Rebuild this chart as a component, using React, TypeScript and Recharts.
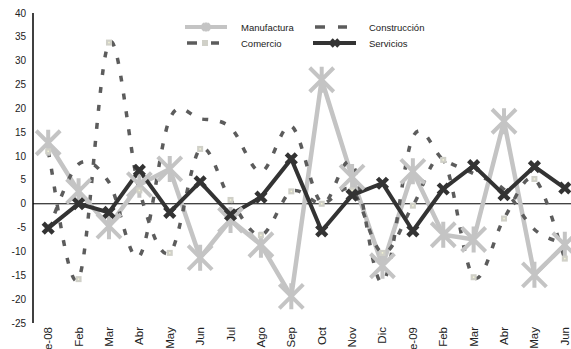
import React from 'react';
import { LineChart, Line, XAxis, YAxis, ReferenceLine, Legend } from 'recharts';

// monthly variation by sector, Jan 2008 – Jun 2009
const months = ['Ene-08', 'Feb', 'Mar', 'Abr', 'May', 'Jun', 'Jul', 'Ago', 'Sep', 'Oct', 'Nov', 'Dic', 'Ene-09', 'Feb', 'Mar', 'Abr', 'May', 'Jun'];
const manufactura = [12.8, 2.6, -4.7, 4.0, 7.3, -11.3, -3.4, -8.6, -19.4, 26.0, 5.6, -13.0, 6.8, -6.5, -7.5, 17.3, -14.9, -8.6];
const comercio = [11.0, -15.8, 33.8, 2.8, -10.3, 11.5, 0.8, -6.6, 2.6, 0.0, 2.8, -10.3, -0.4, 9.2, -15.4, -3.1, 5.2, -11.5];
const construccion = [-5.5, 8.3, 4.5, -11.0, 17.8, 17.8, 16.0, 6.7, 16.3, 0.2, 8.5, -16.5, 14.0, 9.3, 6.3, 3.0, -5.4, -8.5];
const servicios = [-5.1, 0.0, -1.8, 7.0, -1.8, 4.6, -2.3, 1.4, 9.4, -5.7, 1.8, 4.3, -5.7, 3.1, 8.0, 1.9, 7.8, 3.3];
const yTicks = [-25, -20, -15, -10, -5, 0, 5, 10, 15, 20, 25, 30, 35, 40];

const data = months.map((mes, i) => ({
  idx: i,
  mes,
  manufactura: manufactura[i],
  comercio: comercio[i],
  construccion: construccion[i],
  servicios: servicios[i],
}));

const FONT = '"Liberation Sans", Arial, sans-serif';
const LIGHT = '#c4c4c4';
const DARK = '#333333';
const DASH = '#5c5c5c';
const DASHES = '6 12';

// Excel-like smoothed line: cubic Bezier through every point,
// control points taken from the neighbouring points
const smoothCurve = (context: any) => {
  let pts: number[][] = [];
  return {
    areaStart() {},
    areaEnd() {},
    lineStart() {
      pts = [];
    },
    point(x: number, y: number) {
      pts.push([+x, +y]);
    },
    lineEnd() {
      if (!pts.length) return;
      context.moveTo(pts[0][0], pts[0][1]);
      for (let i = 0; i < pts.length - 1; i++) {
        const p0 = pts[i - 1] || pts[i];
        const p1 = pts[i];
        const p2 = pts[i + 1];
        const p3 = pts[i + 2] || p2;
        context.bezierCurveTo(
          p1[0] + (p2[0] - p0[0]) / 6,
          p1[1] + (p2[1] - p0[1]) / 6,
          p2[0] - (p3[0] - p1[0]) / 6,
          p2[1] - (p3[1] - p1[1]) / 6,
          p2[0],
          p2[1]
        );
      }
    },
  };
};

const starPath = (cx: number, cy: number, h: number) =>
  `M${cx - h},${cy - h}L${cx + h},${cy + h}M${cx - h},${cy + h}L${cx + h},${cy - h}M${cx},${cy - h - 1}L${cx},${cy + h + 1}`;

const crossPath = (cx: number, cy: number, h: number) =>
  `M${cx - h},${cy - h}L${cx + h},${cy + h}M${cx - h},${cy + h}L${cx + h},${cy - h}`;

const renderStar = (p: any) => (
  <path key={`m-${p.index}`} d={starPath(p.cx, p.cy, 12)} stroke={LIGHT} strokeWidth={4} fill="none" />
);

const renderCross = (p: any) => (
  <path key={`s-${p.index}`} d={crossPath(p.cx, p.cy, 5)} stroke={DARK} strokeWidth={4.5} fill="none" />
);

const renderSquare = (p: any) => (
  <g key={`c-${p.index}`}>
    <rect x={p.cx - 3} y={p.cy - 3} width={6} height={6} fill="#d0d0c8" />
    <rect x={p.cx - 0.75} y={p.cy - 0.75} width={1.5} height={1.5} fill="#f4f4d6" />
  </g>
);

// rotated month labels; long ones run past the bottom edge
const MonthTick = ({ x, y, payload }: any) => (
  <text
    x={x}
    y={y}
    transform={`rotate(-90 ${x} ${y})`}
    textAnchor="end"
    dy="0.35em"
    fontSize={11.5}
    fill="#222"
    fontFamily={FONT}
  >
    {months[payload.value]}
  </text>
);

const LegendBox = () => {
  const text = { fontSize: 9.5, fill: '#222', fontFamily: FONT };
  return (
    <svg width={580} height={60} style={{ position: 'absolute', left: 0, top: 0, overflow: 'visible' }}>
      <line x1={185} x2={227} y1={27} y2={27} stroke={LIGHT} strokeWidth={4} />
      <path d={starPath(206, 27, 3.5)} stroke={LIGHT} strokeWidth={3} />
      <text x={241} y={30.5} {...text}>Manufactura</text>

      <line x1={187} x2={197} y1={43} y2={43} stroke={DASH} strokeWidth={3.5} />
      <rect x={202} y={40} width={6} height={6} fill="#d0d0c8" />
      <line x1={211} x2={219} y1={43} y2={43} stroke={DASH} strokeWidth={3.5} />
      <text x={241} y={46.5} {...text}>Comercio</text>

      <line x1={315} x2={325} y1={27} y2={27} stroke={DASH} strokeWidth={3.5} />
      <line x1={338} x2={347} y1={27} y2={27} stroke={DASH} strokeWidth={3.5} />
      <text x={369} y={30.5} {...text}>Construcción</text>

      <line x1={313} x2={356} y1={43} y2={43} stroke={DARK} strokeWidth={4} />
      <path d={crossPath(335, 43, 3.5)} stroke={DARK} strokeWidth={3.5} />
      <text x={369} y={46.5} {...text}>Servicios</text>
    </svg>
  );
};

export default function App() {
  return (
    <div style={{ position: 'fixed', left: 0, top: 0, width: 571, height: 349, overflow: 'hidden', background: '#fff' }}>
      <LineChart
        width={580}
        height={349}
        data={data}
        margin={{ top: 13, right: 0, left: 0, bottom: 0 }}
        style={{ fontFamily: FONT }}
      >
        <XAxis
          dataKey="idx"
          type="category"
          scale="band"
          interval={0}
          height={26}
          axisLine={false}
          tickLine={false}
          tickSize={0}
          tickMargin={4}
          tick={<MonthTick />}
        />
        <YAxis
          domain={[-25, 40]}
          ticks={yTicks}
          interval={0}
          width={33}
          tickLine={false}
          tickSize={0}
          tickMargin={7}
          axisLine={{ stroke: '#000', strokeWidth: 1.5 }}
          tick={{ fontSize: 10, fill: '#222', fontFamily: FONT }}
        />
        <Legend
          layout="horizontal"
          verticalAlign="middle"
          align="center"
          content={<LegendBox />}
          wrapperStyle={{ left: 0, top: 0, width: 580, height: 0 }}
        />
        <ReferenceLine y={0} stroke="#000" strokeWidth={1} />
        <Line
          dataKey="manufactura"
          type="linear"
          stroke={LIGHT}
          strokeWidth={4.5}
          dot={renderStar}
          activeDot={false}
          isAnimationActive={false}
        />
        <Line
          dataKey="comercio"
          type={smoothCurve as any}
          stroke={DASH}
          strokeWidth={3.5}
          strokeDasharray={DASHES}
          dot={renderSquare}
          activeDot={false}
          isAnimationActive={false}
        />
        <Line
          dataKey="construccion"
          type={smoothCurve as any}
          stroke={DASH}
          strokeWidth={3.5}
          strokeDasharray={DASHES}
          dot={false}
          activeDot={false}
          isAnimationActive={false}
        />
        <Line
          dataKey="servicios"
          type="linear"
          stroke={DARK}
          strokeWidth={4}
          dot={renderCross}
          activeDot={false}
          isAnimationActive={false}
        />
      </LineChart>
    </div>
  );
}
